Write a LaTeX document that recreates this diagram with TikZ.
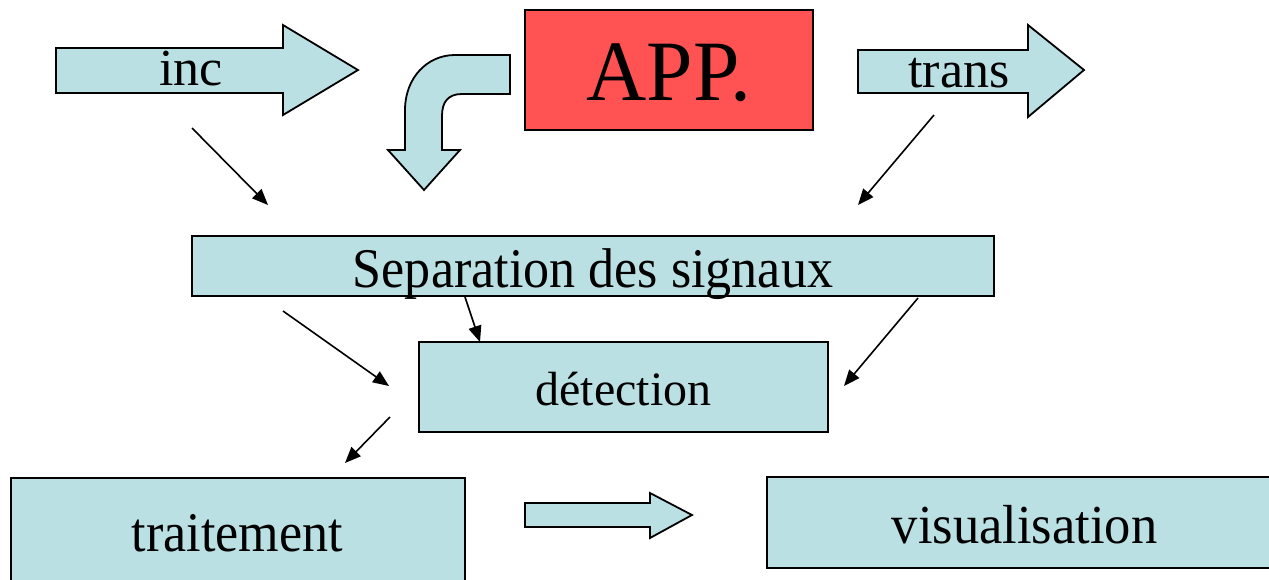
\documentclass[tikz,border=0pt]{standalone}
\usepackage{fontspec}
\setmainfont{Liberation Serif}
\usetikzlibrary{arrows.meta}
\definecolor{boxfill}{HTML}{BAE0E3}
\definecolor{appred}{HTML}{FF5252}
\newcommand{\narrow}[2]{\scalebox{#1}[1]{#2}}
\tikzset{
  box/.style={draw=black, line width=1pt, fill=boxfill, inner sep=0pt},
  blockarrow/.style={draw=black, line width=0.9pt, fill=boxfill, line join=miter},
  label/.style={inner sep=0pt, anchor=base, font=\fontsize{26}{30}\selectfont},
  thin arrow/.style={line width=0.8pt, -{Triangle[length=8pt,width=6.5pt]}}
}
\begin{document}
\begin{tikzpicture}[x=0.5pt,y=-0.5pt]
\clip (0,0) rectangle (1269,579);
\fill[white] (0,0) rectangle (1269,579);

% boxes
\node[box, fill=appred, minimum width=144pt, minimum height=60pt] (app) at (669,69.5) {};
\node[box, minimum width=401pt, minimum height=30pt] (sep) at (593,266) {};
\node[box, minimum width=204.5pt, minimum height=45pt] (det) at (623.5,387) {};
\node[box, minimum width=227pt, minimum height=57pt] (trait) at (238,535) {};
\node[box, minimum width=258pt, minimum height=45.5pt] (visu) at (1025,522.5) {};

% box texts, set on their baselines
\node[label, font=\fontsize{43}{48}\selectfont] (apptext) at (669,100)
  {\narrow{0.97}{APP.}};
\node[label, font=\fontsize{28}{32}\selectfont] (septext) at (593,287)
  {\narrow{0.93}{Separation des signaux}};
\node[label, font=\fontsize{24}{28}\selectfont] (dettext) at (623.5,405) {détection};
\node[label, font=\fontsize{28}{32}\selectfont] (traittext) at (237.5,551)
  {\narrow{0.93}{traitement}};
\node[label, font=\fontsize{27.5}{32}\selectfont] (visutext) at (1024.5,543)
  {\narrow{0.955}{visualisation}};

% block arrows
\draw[blockarrow] (56,48) -- (283,48) -- (283,25) -- (358,70) -- (283,115)
  -- (283,93) -- (56,93) -- cycle;
\node[label] (inc) at (191,85) {inc};
\draw[blockarrow] (858,50) -- (1028,50) -- (1028,25) -- (1084,70) -- (1028,117)
  -- (1028,93) -- (858,93) -- cycle;
\node[label] (trans) at (959,87) {trans};
\draw[blockarrow] (525,503) -- (650,503) -- (650,493) -- (692,515) -- (650,538)
  -- (650,527) -- (525,527) -- cycle;

% bent arrow from APP. down to the separation stage
\draw[blockarrow] (510,55) -- (455,55)
  .. controls (427,55) and (405,78) .. (405,110)
  -- (405,150) -- (388,150) -- (424,190) -- (460,150) -- (442,150)
  -- (442,116) .. controls (442,102) and (448,94) .. (462,94)
  -- (510,94) -- cycle;

% small arrows
\coordinate (a1s) at (192,128);  \coordinate (a1e) at (268,205);
\coordinate (a2s) at (934,115);  \coordinate (a2e) at (858,205);
\coordinate (a3s) at (283,311);  \coordinate (a3e) at (389,386);
\coordinate (a4s) at (465,297);  \coordinate (a4e) at (480,342);
\coordinate (a5s) at (918,298);  \coordinate (a5e) at (844,386);
\coordinate (a6s) at (390,417);  \coordinate (a6e) at (345,463);
\draw[thin arrow] (a1s) -- (a1e);
\draw[thin arrow] (a2s) -- (a2e);
\draw[thin arrow] (a3s) -- (a3e);
\draw[thin arrow] (a4s) -- (a4e);
\draw[thin arrow] (a5s) -- (a5e);
\draw[thin arrow] (a6s) -- (a6e);
\end{tikzpicture}
\end{document}
